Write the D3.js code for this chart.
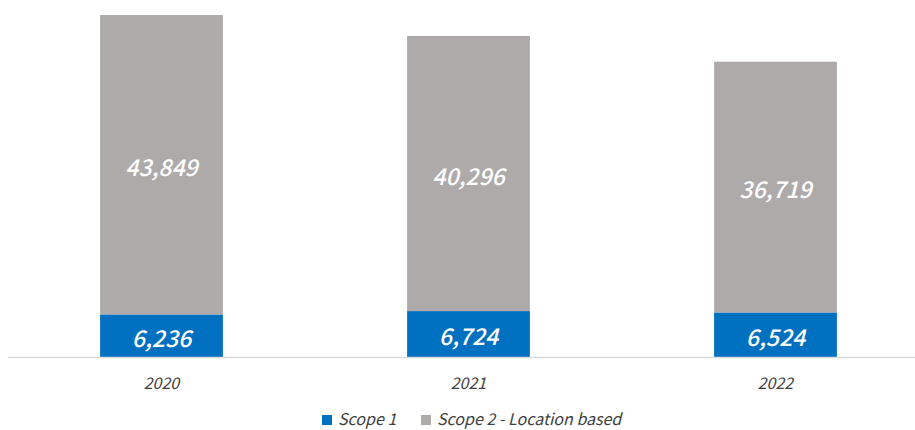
<!DOCTYPE html>
<html>
<head>
<meta charset="utf-8">
<script src="https://cdn.jsdelivr.net/npm/d3@7"></script>
<style>
  body { margin: 0; background: #fff; }
  text { font-family: "Noto Sans CJK KR", "Noto Sans", sans-serif; font-style: italic; }
</style>
</head>
<body>
<script>
// chart data
const years = ["2020", "2021", "2022"];
const scope1 = [6236, 6724, 6524];
const scope2 = [43849, 40296, 36719];
const seriesNames = ["Scope 1", "Scope 2 - Location based"];
const colors = ["#0070C0", "#AEAAAA"];

const width = 915, height = 430;
const baseY = 357;

const svg = d3.select("body").append("svg")
  .attr("width", width)
  .attr("height", height);

// x scale (bands)
const x = d3.scaleBand()
  .domain(years)
  .range([8, 929])
  .paddingInner(0.6)
  .paddingOuter(0.3);

// y scale
const y = d3.scaleLinear()
  .domain([0, 50000])
  .range([baseY, baseY - 341.4]);

const rows = years.map((yr, i) => ({ year: yr, s1: scope1[i], s2: scope2[i] }));
const stack = d3.stack().keys(["s1", "s2"])(rows);

// bars
svg.append("g").selectAll("g")
  .data(stack)
  .join("g")
  .attr("fill", (d, i) => colors[i])
  .selectAll("rect")
  .data(d => d)
  .join("rect")
  .attr("x", d => x(d.data.year))
  .attr("y", d => y(d[1]))
  .attr("width", x.bandwidth())
  .attr("height", d => y(d[0]) - y(d[1]));

// value labels
svg.append("g").selectAll("g")
  .data(stack)
  .join("g")
  .selectAll("text")
  .data(d => d)
  .join("text")
  .attr("x", d => x(d.data.year) + x.bandwidth() / 2)
  .attr("y", d => (y(d[0]) + y(d[1])) / 2 + 11)
  .attr("text-anchor", "middle")
  .attr("fill", "#fff")
  .attr("font-size", 23)
  .attr("font-weight", 500)
  .text(d => d3.format(",")(d[1] - d[0]));

// x axis line
svg.append("line")
  .attr("x1", 8).attr("x2", 915)
  .attr("y1", baseY + 0.5).attr("y2", baseY + 0.5)
  .attr("stroke", "#d9d9d9")
  .attr("stroke-width", 1.5);

// x axis labels
svg.append("g").selectAll("text")
  .data(years)
  .join("text")
  .attr("x", d => x(d) + x.bandwidth() / 2)
  .attr("y", 389)
  .attr("text-anchor", "middle")
  .attr("fill", "#404040")
  .attr("font-size", 16)
  .text(d => d);

// legend
const legend = svg.append("g");
const legendX = [322, 421];
seriesNames.forEach((name, i) => {
  legend.append("rect")
    .attr("x", legendX[i]).attr("y", 415)
    .attr("width", 10).attr("height", 10)
    .attr("fill", colors[i]);
  legend.append("text")
    .attr("x", legendX[i] + 16).attr("y", 425)
    .attr("fill", "#404040")
    .attr("font-size", 16)
    .text(name);
});
</script>
</body>
</html>
